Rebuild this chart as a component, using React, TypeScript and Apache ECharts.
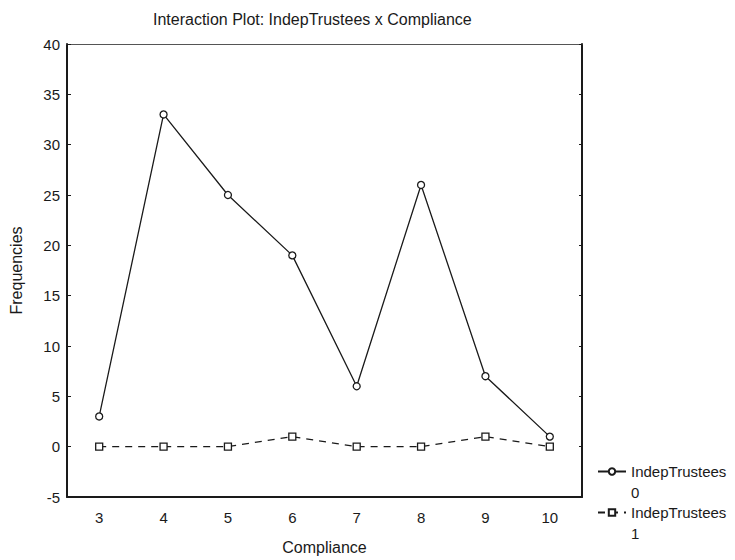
import React, { useEffect, useRef } from "react";
import * as echarts from "echarts";

// Compliance levels on the horizontal axis
const complianceLevels = ["3", "4", "5", "6", "7", "8", "9", "10"];
// Frequencies for each IndepTrustees group
const trustees0 = [3, 33, 25, 19, 6, 26, 7, 1];
const trustees1 = [0, 0, 0, 1, 0, 0, 1, 0];
const seriesNames = ["IndepTrustees 0", "IndepTrustees 1"];

const FONT = "Liberation Sans, Arial, sans-serif";
const INK = "#1a1a1a";

// Legend label: group name on one line, level below it; the leading blank
// line keeps the name level with the legend symbol.
const legendLabel = (name: string) => {
  const i = name.lastIndexOf(" ");
  return "\n" + name.slice(0, i) + "\n" + name.slice(i + 1);
};

export default function App() {
  const ref = useRef<HTMLDivElement>(null);

  useEffect(() => {
    if (!ref.current) return;
    const chart = echarts.init(ref.current, null, { renderer: "svg" });

    const legendBase = {
      orient: "vertical",
      left: 597,
      padding: 0,
      itemWidth: 28,
      itemHeight: 8,
      formatter: legendLabel,
      textStyle: { fontFamily: FONT, fontSize: 15, color: INK, lineHeight: 21 },
    };

    chart.setOption({
      animation: false,
      backgroundColor: "#ffffff",
      title: {
        text: "Interaction Plot: IndepTrustees x Compliance",
        left: 148,
        top: 6,
        textStyle: { fontFamily: FONT, fontSize: 16, fontWeight: "normal", color: INK },
      },
      legend: [
        { ...legendBase, data: [seriesNames[0]], top: 440 },
        { ...legendBase, data: [seriesNames[1]], top: 481 },
      ],
      grid: { left: 64, top: 44, right: 153, bottom: 62 },
      xAxis: [
        {
          type: "category",
          data: complianceLevels,
          boundaryGap: true,
          name: "Compliance",
          nameLocation: "middle",
          nameGap: 42,
          nameTextStyle: { fontFamily: FONT, fontSize: 16, color: INK },
          axisLine: { onZero: false, lineStyle: { color: INK, width: 2 } },
          axisTick: { alignWithLabel: true, inside: true, length: 4, lineStyle: { color: INK } },
          axisLabel: { fontFamily: FONT, fontSize: 15, color: INK, margin: 13 },
          splitLine: { show: false },
        },
        {
          type: "category",
          data: complianceLevels,
          position: "top",
          boundaryGap: true,
          axisLine: { onZero: false, lineStyle: { color: "#555", width: 1 } },
          axisTick: { alignWithLabel: true, inside: true, length: 3, lineStyle: { color: INK } },
          axisLabel: { show: false },
        },
      ],
      yAxis: [
        {
          type: "value",
          min: -5,
          max: 40,
          interval: 5,
          name: "Frequencies",
          nameLocation: "middle",
          nameGap: 43,
          nameTextStyle: { fontFamily: FONT, fontSize: 16, color: INK },
          axisLine: { show: true, onZero: false, lineStyle: { color: INK, width: 2 } },
          axisTick: { show: true, inside: true, length: 4, lineStyle: { color: INK } },
          axisLabel: { fontFamily: FONT, fontSize: 15, color: INK, margin: 7 },
          splitLine: { show: false },
        },
        {
          type: "value",
          min: -5,
          max: 40,
          interval: 5,
          position: "right",
          axisLine: { show: true, onZero: false, lineStyle: { color: INK, width: 2 } },
          axisTick: { show: true, inside: true, length: 3, lineStyle: { color: INK } },
          axisLabel: { show: false },
          splitLine: { show: false },
        },
      ],
      series: [
        {
          name: seriesNames[0],
          type: "line",
          data: trustees0,
          symbol: "circle",
          symbolSize: 7,
          showAllSymbol: true,
          lineStyle: { color: INK, width: 1.3, type: "solid" },
          itemStyle: { color: "#ffffff", borderColor: INK, borderWidth: 1.3 },
        },
        {
          name: seriesNames[1],
          type: "line",
          data: trustees1,
          symbol: "rect",
          symbolSize: 7,
          showAllSymbol: true,
          lineStyle: { color: INK, width: 1.3, type: [7, 6] },
          itemStyle: { color: "#ffffff", borderColor: INK, borderWidth: 1.3 },
        },
      ],
    });

    return () => chart.dispose();
  }, []);

  return (
    <div
      ref={ref}
      style={{ position: "fixed", left: 0, top: 0, width: 735, height: 560 }}
    />
  );
}
